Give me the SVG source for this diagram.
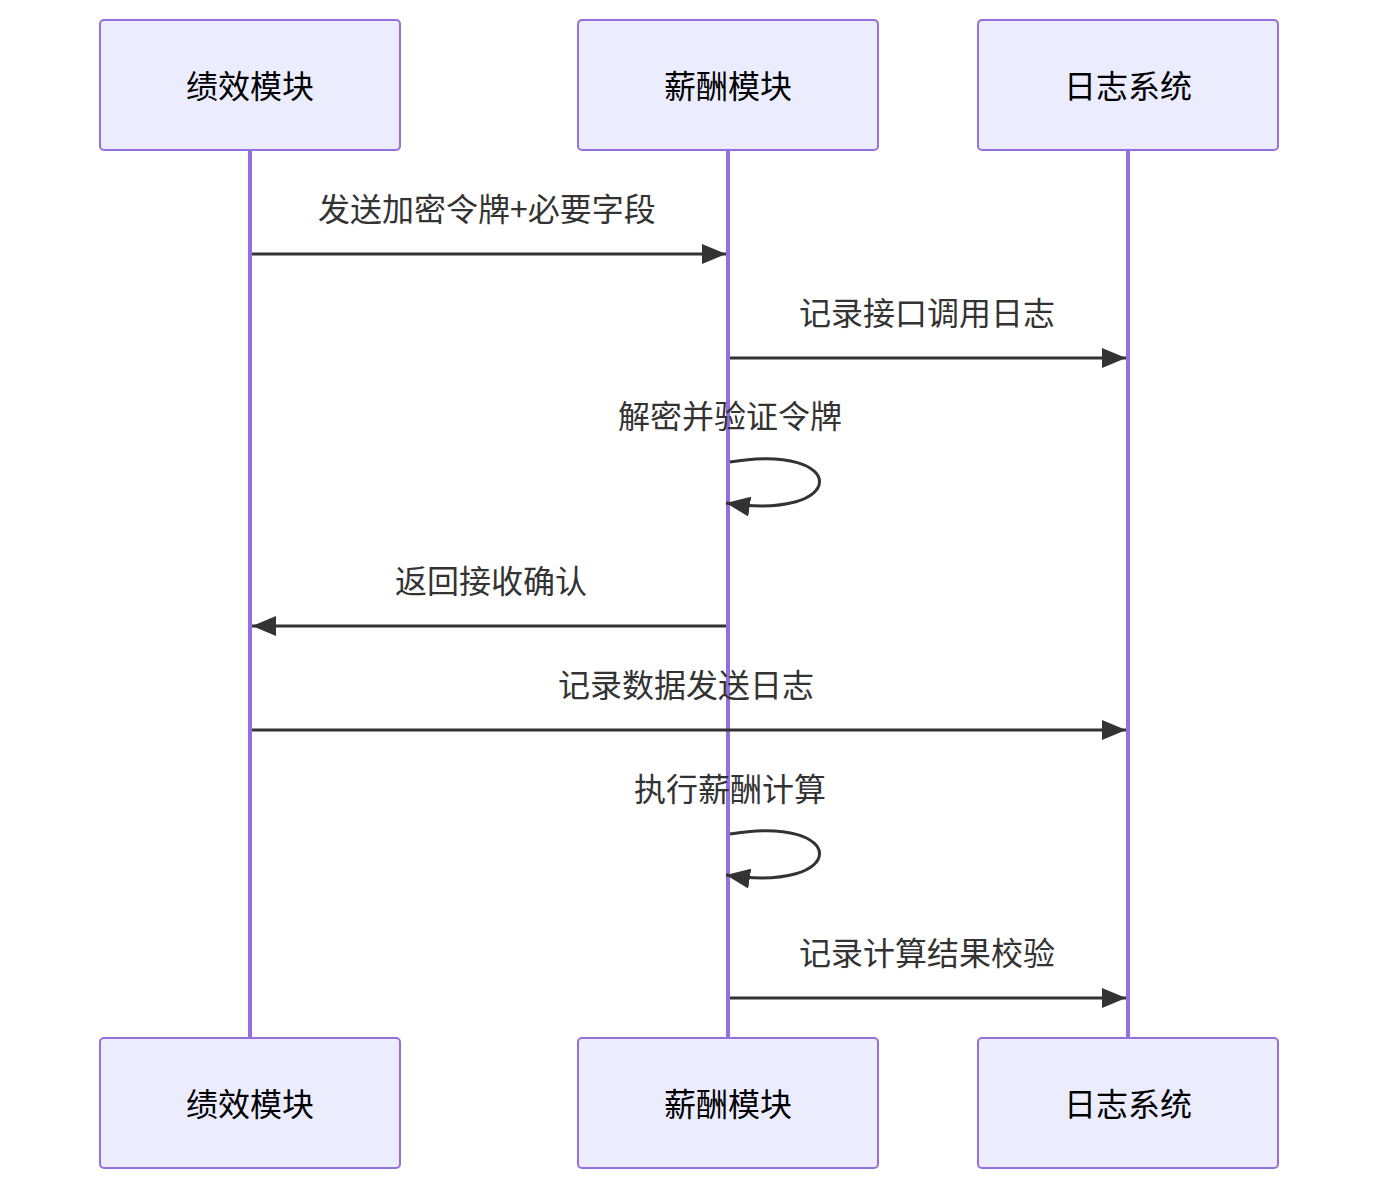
<svg xmlns="http://www.w3.org/2000/svg" width="1378" height="1190" viewBox="0 0 1378 1190">
<style>
.actor{fill:#ECECFF;stroke:#9370DB;stroke-width:2}
.atext{font-family:"Noto Sans CJK SC","Noto Sans",sans-serif;font-size:32px;fill:#000;text-anchor:middle;dominant-baseline:central}
.life{stroke:#9370DB;stroke-width:4}
.msg{stroke:#333;stroke-width:3;fill:none}
.mtext{font-family:"Noto Sans CJK SC","Noto Sans",sans-serif;font-size:32px;fill:#333;text-anchor:middle;dominant-baseline:central}
</style>
<defs>
<marker id="ah2" viewBox="0 0 24 20" refX="24" refY="10" markerWidth="24" markerHeight="20" markerUnits="userSpaceOnUse" orient="auto">
<path d="M0,0 L24,10 L0,20 z" fill="#333"/>
</marker>
</defs>
<g id="lifelines">
<line class="life" x1="250" y1="150" x2="250" y2="1038"/>
<line class="life" x1="728" y1="150" x2="728" y2="1038"/>
<line class="life" x1="1128" y1="150" x2="1128" y2="1038"/>
</g>
<g id="actor-perf-top"><rect class="actor" x="100" y="20" width="300" height="130" rx="4"/><text class="atext" x="250" y="84">绩效模块</text></g>
<g id="actor-pay-top"><rect class="actor" x="578" y="20" width="300" height="130" rx="4"/><text class="atext" x="728" y="84">薪酬模块</text></g>
<g id="actor-log-top"><rect class="actor" x="978" y="20" width="300" height="130" rx="4"/><text class="atext" x="1128" y="84">日志系统</text></g>
<g id="actor-perf-bottom"><rect class="actor" x="100" y="1038" width="300" height="130" rx="4"/><text class="atext" x="250" y="1102">绩效模块</text></g>
<g id="actor-pay-bottom"><rect class="actor" x="578" y="1038" width="300" height="130" rx="4"/><text class="atext" x="728" y="1102">薪酬模块</text></g>
<g id="actor-log-bottom"><rect class="actor" x="978" y="1038" width="300" height="130" rx="4"/><text class="atext" x="1128" y="1102">日志系统</text></g>
<g id="connectors">
<text class="mtext" x="487" y="207">发送加密令牌+必要字段</text>
<line class="msg" x1="252" y1="254" x2="726" y2="254" marker-end="url(#ah2)"/>
<text class="mtext" x="927" y="311">记录接口调用日志</text>
<line class="msg" x1="730" y1="358" x2="1126" y2="358" marker-end="url(#ah2)"/>
<text class="mtext" x="730" y="414">解密并验证令牌</text>
<path class="msg" d="M730,462 C850,442 850,522 726,503" marker-end="url(#ah2)"/>
<text class="mtext" x="491" y="579">返回接收确认</text>
<line class="msg" x1="726" y1="626" x2="252" y2="626" marker-end="url(#ah2)"/>
<text class="mtext" x="686" y="683">记录数据发送日志</text>
<line class="msg" x1="252" y1="730" x2="1126" y2="730" marker-end="url(#ah2)"/>
<text class="mtext" x="730" y="787">执行薪酬计算</text>
<path class="msg" d="M730,834 C850,814 850,894 726,875" marker-end="url(#ah2)"/>
<text class="mtext" x="927" y="951">记录计算结果校验</text>
<line class="msg" x1="730" y1="998" x2="1126" y2="998" marker-end="url(#ah2)"/>
</g>
</svg>
